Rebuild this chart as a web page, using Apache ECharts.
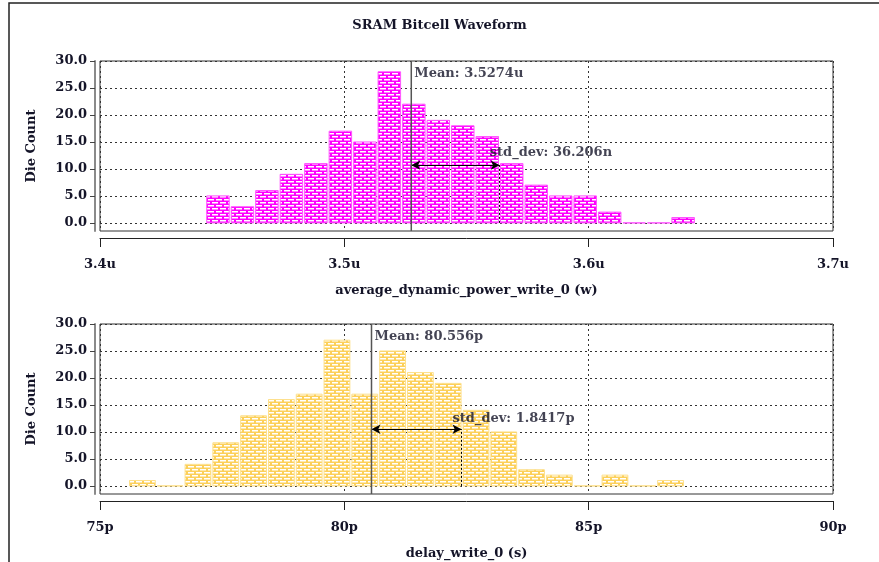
<!DOCTYPE html>
<html>
<head>
<meta charset="utf-8">
<script src="https://cdn.jsdelivr.net/npm/echarts@6/dist/echarts.min.js"></script>
<style>
  html, body { margin: 0; padding: 0; background: #fff; }
  #chart { width: 879px; height: 562px; }
</style>
</head>
<body>
<div id="chart"></div>
<script>
// ---- data ----
const chartTitle = 'SRAM Bitcell Waveform';
const countTicks = [0, 5, 10, 15, 20, 25, 30];

// average dynamic power histogram (values in u, i.e. microwatts)
const powerCounts = [5, 3, 6, 9, 11, 17, 15, 28, 22, 19, 18, 16, 11, 7, 5, 5, 2, 0, 0, 1];
const powerRange = [3.44327, 3.64367];
const powerMean = 3.5274;
const powerStd = 0.036206;          // 36.206n
const powerArrowLevel = 10.7;

// write delay histogram (values in p, i.e. picoseconds)
const delayCounts = [1, 0, 4, 8, 13, 16, 17, 27, 17, 25, 21, 19, 14, 10, 3, 2, 0, 2, 0, 1];
const delayRange = [75.583, 86.96];
const delayMean = 80.556;
const delayStd = 1.8417;
const delayArrowLevel = 10.5;

// ---- helpers ----
const FONT = '"DejaVu Serif", "Liberation Serif", serif';
const TEXT = '#141428';
const Y_MIN = -1.5, Y_MAX = 30;

// small brick texture: white mortar dashes on the bar colour
function brickPattern(base) {
  const c = document.createElement('canvas');
  c.width = 8; c.height = 6;
  const g = c.getContext('2d');
  g.fillStyle = base;
  g.fillRect(0, 0, 8, 6);
  g.fillStyle = '#ffffff';
  g.fillRect(0, 1, 6, 1.5);
  g.fillRect(4, 4, 4, 1.5);
  g.fillRect(0, 4, 2, 1.5);
  return { image: c, repeat: 'repeat' };
}

function bins(counts, range) {
  const w = (range[1] - range[0]) / counts.length;
  return counts.map((n, i) => [range[0] + i * w, range[0] + (i + 1) * w, n]);
}

function histSeries(idx, counts, range, color, edge) {
  const fill = brickPattern(color);
  return {
    type: 'custom',
    xAxisIndex: idx, yAxisIndex: idx,
    data: bins(counts, range),
    encode: { x: [0, 1], y: 2 },
    z: 2,
    renderItem(params, api) {
      const a = api.coord([api.value(0), api.value(2)]);
      const b = api.coord([api.value(1), 0]);
      return {
        type: 'rect',
        shape: { x: a[0] + 1, y: a[1], width: b[0] - a[0] - 2, height: b[1] - a[1] },
        style: { fill: fill, stroke: edge, lineWidth: 1 }
      };
    }
  };
}

function statSeries(idx, mean, std, level, meanText, stdText, labelShift) {
  return [
    {
      type: 'line',
      xAxisIndex: idx, yAxisIndex: idx,
      data: [[mean, Y_MIN], [mean, Y_MAX]],
      symbol: 'none',
      lineStyle: { color: '#555', width: 1.5 },
      z: 5,
      markLine: {
        silent: true,
        label: { show: false },
        animation: false,
        data: [
          [{ coord: [mean, level], symbol: 'arrow' }, { coord: [mean + std, level], symbol: 'arrow' }],
          [{ coord: [mean, 0], symbol: 'none', lineStyle: { type: [2, 2], width: 1 } },
           { coord: [mean, level], symbol: 'none' }],
          [{ coord: [mean + std, 0], symbol: 'none', lineStyle: { type: [2, 2], width: 1 } },
           { coord: [mean + std, level], symbol: 'none' }]
        ],
        symbolSize: [7, 9],
        lineStyle: { color: '#000', width: 1, type: 'solid' }
      }
    },
    {
      type: 'scatter',
      xAxisIndex: idx, yAxisIndex: idx,
      symbolSize: 0,
      silent: true,
      z: 6,
      data: [
        { value: [mean, 27.6], label: { formatter: meanText, offset: [-2, 0] } },
        { value: [mean + std, level], label: { formatter: stdText, offset: labelShift } }
      ],
      label: {
        show: true, position: 'right', distance: 5,
        fontFamily: FONT, fontWeight: 'bold', fontSize: 13, color: TEXT
      }
    }
  ];
}

function xAxisFor(idx, min, max, step, unit, name, digits) {
  return {
    type: 'value', gridIndex: idx, min: min, max: max, interval: step,
    position: 'bottom', offset: 7,
    name: name, nameLocation: 'middle', nameGap: 46,
    nameTextStyle: { fontFamily: FONT, fontWeight: 'bold', fontSize: 13, color: TEXT },
    axisLine: { show: true, onZero: false, lineStyle: { color: '#222', width: 1 } },
    axisTick: { show: true, inside: false, length: 9, lineStyle: { color: '#222' } },
    axisLabel: {
      margin: 20, fontFamily: FONT, fontWeight: 'bold', fontSize: 13, color: TEXT,
      formatter: v => v.toFixed(digits) + unit
    },
    splitLine: { show: true, lineStyle: { color: '#333', type: [2, 3], width: 1 } }
  };
}

function yAxisFor(idx) {
  return {
    type: 'value', gridIndex: idx, min: Y_MIN, max: Y_MAX,
    offset: 5,
    name: 'Die Count', nameLocation: 'middle', nameGap: 57,
    nameTextStyle: { fontFamily: FONT, fontWeight: 'bold', fontSize: 13, color: TEXT },
    axisLine: { show: true, onZero: false, lineStyle: { color: '#8a8a8a', width: 2 } },
    axisTick: { show: true, length: 5, customValues: countTicks, lineStyle: { color: '#444' } },
    axisLabel: {
      margin: 8, customValues: countTicks,
      fontFamily: FONT, fontWeight: 'bold', fontSize: 13, color: TEXT,
      formatter: v => v.toFixed(1)
    },
    splitLine: { show: true, lineStyle: { color: '#333', type: [2, 3], width: 1 } }
  };
}

const chart = echarts.init(document.getElementById('chart'), null, { renderer: 'canvas' });

chart.setOption({
  animation: false,
  backgroundColor: '#fff',
  title: {
    text: chartTitle, left: 'center', top: 14,
    textStyle: { fontFamily: FONT, fontWeight: 'bold', fontSize: 13, color: TEXT }
  },
  graphic: [
    { type: 'polyline', shape: { points: [[9, 570], [9, 3], [890, 3]] },
      style: { stroke: '#222', lineWidth: 1.5, fill: null } }
  ],
  grid: [
    { left: 100, right: 46, top: 61, height: 170, show: true, borderColor: '#333', borderWidth: 1, backgroundColor: 'transparent' },
    { left: 100, right: 46, top: 324, height: 170, show: true, borderColor: '#333', borderWidth: 1, backgroundColor: 'transparent' }
  ],
  xAxis: [
    xAxisFor(0, 3.4, 3.7, 0.1, 'u', 'average_dynamic_power_write_0 (w)', 1),
    xAxisFor(1, 75, 90, 5, 'p', 'delay_write_0 (s)', 0)
  ],
  yAxis: [yAxisFor(0), yAxisFor(1)],
  series: [
    histSeries(0, powerCounts, powerRange, '#ff00ff', '#ff55ff'),
    ...statSeries(0, powerMean, powerStd, powerArrowLevel,
      'Mean: ' + powerMean.toFixed(4) + 'u',
      'std_dev: ' + (powerStd * 1000).toFixed(3) + 'n', [-15, -13]),
    histSeries(1, delayCounts, delayRange, '#fcd05a', '#fde08c'),
    ...statSeries(1, delayMean, delayStd, delayArrowLevel,
      'Mean: ' + delayMean.toFixed(3) + 'p',
      'std_dev: ' + delayStd.toFixed(4) + 'p', [-14, -11])
  ]
});
</script>
</body>
</html>
